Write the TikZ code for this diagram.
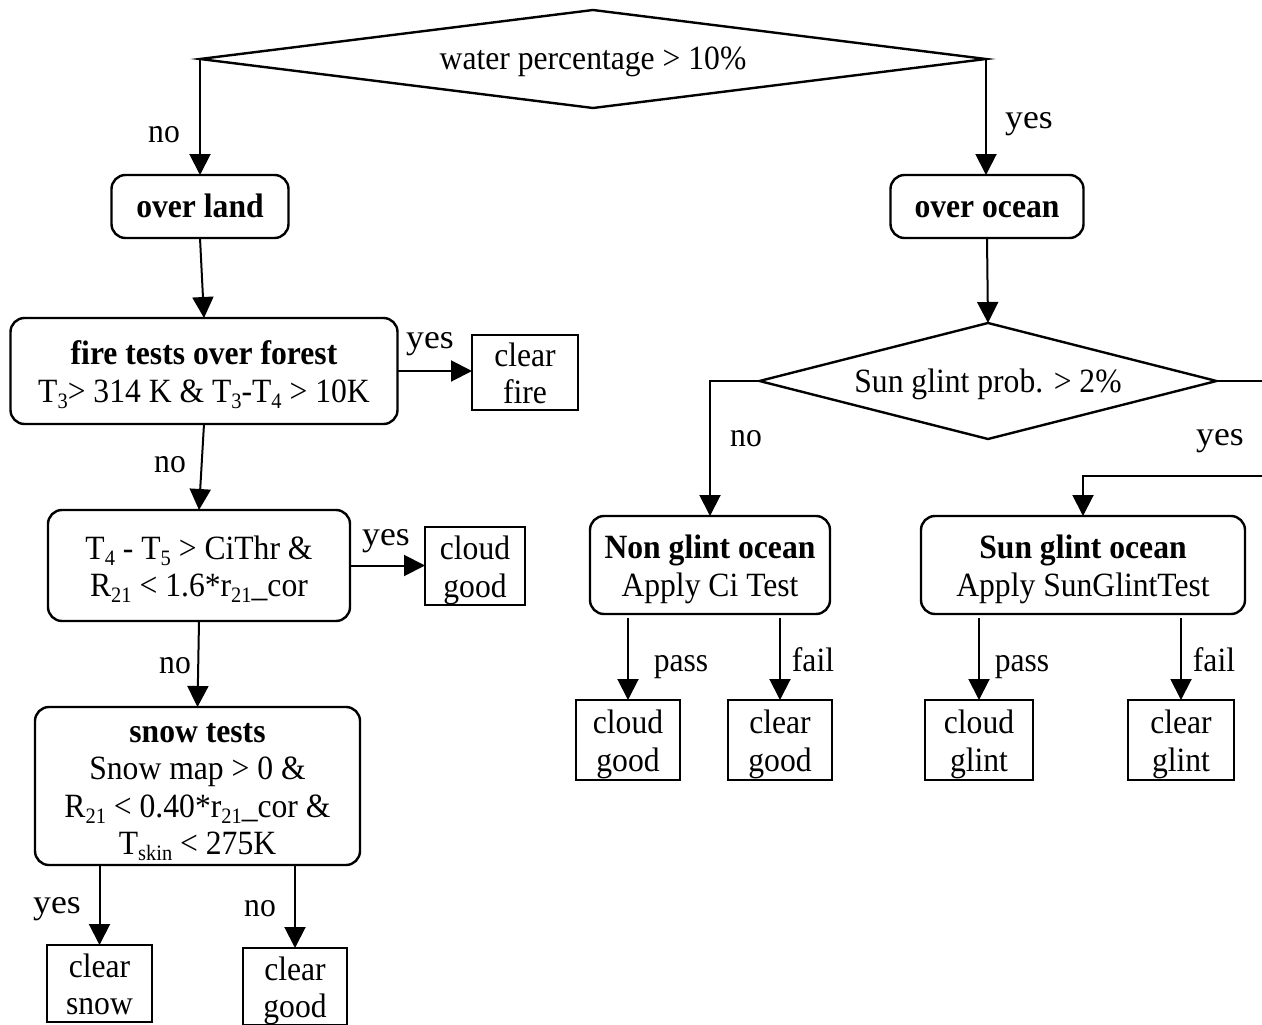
\documentclass[tikz,border=0pt]{standalone}
\usepackage{fontspec}
\setmainfont{Liberation Serif}[FakeStretch=0.93]
\newfontfamily\yesfont{Liberation Serif}[FakeStretch=1.05]
\usetikzlibrary{shapes.geometric,arrows.meta}
% lowered index in the running serif face
\newcommand{\lowidx}[1]{\raisebox{-6pt}{\fontsize{22}{22}\selectfont #1}}
% fixed first-line height and last-line depth for text blocks
\newcommand{\topstrut}{\rule{0pt}{33pt}}
\newcommand{\mtop}{\rule{0pt}{36pt}}
\newcommand{\lbltopstrut}{\rule{0pt}{28pt}}
\newcommand{\botstrut}{\rule[-11pt]{0pt}{11pt}}

\begin{document}
\begin{tikzpicture}[x=1pt,y=-1pt,
  txt/.style={font=\fontsize{34}{37.5}\selectfont,
    execute at begin node=\topstrut, execute at end node=\botstrut},
  mtxt/.style={font=\fontsize{34}{37.5}\selectfont},
  lbltxt/.style={inner sep=0pt, font=\fontsize{34}{37.5}\selectfont,
    execute at begin node=\lbltopstrut, execute at end node=\botstrut},
  rbox/.style={draw, line width=2.4pt, rounded corners=14pt, align=center, inner xsep=0pt, inner ysep=-15pt, outer sep=0pt},
  sbox/.style={mtxt, draw, line width=2.2pt, align=center, inner xsep=0pt, inner ysep=-15pt, outer sep=0pt},
  dbox/.style={txt, draw, diamond, line width=2.4pt, inner xsep=-60pt, inner ysep=-15pt, outer sep=0pt},
  arr/.style={line width=2pt, -{Triangle[length=21pt,width=21pt]}},
  yeslbl/.style={lbltxt, font=\yesfont\fontsize{34}{34}\selectfont},
  nolbl/.style={lbltxt},
  pflbl/.style={lbltxt}
]
\useasboundingbox (0,0) rectangle (1262,1025);
\clip (0,0) rectangle (1262,1025);

% top decision
\node[dbox, aspect=8, minimum width=786pt, minimum height=98pt] (wp) at (593,59) {water percentage > 10\%};

% land branch
\node[rbox, txt, minimum width=177pt, minimum height=63pt] (land) at (200,206.5) {\textbf{over land}};
\node[rbox, mtxt, minimum width=387pt, minimum height=106pt] (fire) at (204,371)
  {\mtop\textbf{fire tests over forest}\\T\lowidx{3}> 314 K \& T\lowidx{3}-T\lowidx{4} > 10K\botstrut};
\node[sbox, minimum width=106pt, minimum height=75pt] (cfire) at (525,372.5) {\mtop clear\\fire\botstrut};
\node[rbox, mtxt, minimum width=302pt, minimum height=111pt] (ci) at (199,565.5)
  {\mtop T\lowidx{4} - T\lowidx{5} > CiThr \&\\R\lowidx{21} < 1.6*r\lowidx{21}\_cor\botstrut};
\node[sbox, minimum width=100pt, minimum height=78pt] (cgoodA) at (475,566) {\mtop cloud\\good\botstrut};
\node[rbox, mtxt, minimum width=325pt, minimum height=158pt] (snow) at (197.5,786)
  {\mtop\textbf{snow tests}\\Snow map > 0 \&\\R\lowidx{21} < 0.40*r\lowidx{21}\_cor \&\\T\lowidx{skin} < 275K\botstrut};
\node[sbox, minimum width=105pt, minimum height=77pt] (csnow) at (99.5,983.5) {\mtop clear\\snow\botstrut};
\node[sbox, minimum width=104pt, minimum height=77pt] (cgoodB) at (295,986.5) {\mtop clear\\good\botstrut};

% ocean branch
\node[rbox, txt, minimum width=193pt, minimum height=63pt] (ocean) at (987,206.5) {\textbf{over ocean}};
\node[dbox, aspect=4, minimum width=457pt, minimum height=116pt] (sg) at (988,381) {Sun glint prob. > 2\%};
\node[rbox, mtxt, minimum width=240pt, minimum height=98pt] (ng) at (710,565) {\mtop\textbf{Non glint ocean}\\Apply Ci Test\botstrut};
\node[rbox, mtxt, minimum width=324pt, minimum height=98pt] (sgo) at (1083,565) {\mtop\textbf{Sun glint ocean}\\Apply SunGlintTest\botstrut};
\node[sbox, minimum width=104pt, minimum height=80pt] (cgoodC) at (628,740) {\mtop cloud\\good\botstrut};
\node[sbox, minimum width=104pt, minimum height=80pt] (cgoodD) at (780,740) {\mtop clear\\good\botstrut};
\node[sbox, minimum width=108pt, minimum height=80pt] (cglint) at (979,740) {\mtop cloud\\glint\botstrut};
\node[sbox, minimum width=106pt, minimum height=80pt] (clglint) at (1181,740) {\mtop clear\\glint\botstrut};

% connectors
\draw[arr] (wp.west) -- (wp.west |- land.north);
\draw[arr] (wp.east) -- (wp.east |- ocean.north);
\draw[arr] (land.south) -- (fire.north);
\draw[arr] (fire.east) -- (fire.east -| cfire.west);
\draw[arr] (fire.south) -- (ci.north);
\draw[arr] (ci.east) -- (ci.east -| cgoodA.west);
\draw[arr] (ci.south) -- (snow.north);
\draw[arr] (csnow.north |- snow.south) -- (csnow.north);
\draw[arr] (cgoodB.north |- snow.south) -- (cgoodB.north);
\draw[arr] (ocean.south) -- (sg.north);
\draw[arr] (sg.west) -| (ng.north);
\coordinate (sgturn) at (1290,381);
\coordinate (sgback) at (1290,476);
\draw[arr] (sg.east) -- (sgturn) -- (sgback) -| (sgo.north);
\draw[arr] ([yshift=-4pt]ng.south -| cgoodC.north) -- (cgoodC.north);
\draw[arr] ([yshift=-4pt]ng.south -| cgoodD.north) -- (cgoodD.north);
\draw[arr] ([yshift=-4pt]sgo.south -| cglint.north) -- (cglint.north);
\draw[arr] ([yshift=-4pt]sgo.south -| clglint.north) -- (clglint.north);

% branch labels
\node[nolbl] (lno1) at (164,134) {no};
\node[yeslbl] (lyes1) at (1029,120) {yes};
\node[yeslbl] (lyes2) at (430,340) {yes};
\node[nolbl] (lno2) at (170,464) {no};
\node[yeslbl] (lyes3) at (386,537) {yes};
\node[nolbl] (lno3) at (175,665) {no};
\node[yeslbl] (lyes4) at (57,905) {yes};
\node[nolbl] (lno4) at (260,908) {no};
\node[nolbl] (lno5) at (746,438) {no};
\node[yeslbl] (lyes5) at (1220,437) {yes};
\node[pflbl] (lpass1) at (681,663) {pass};
\node[pflbl] (lfail1) at (813,663) {fail};
\node[pflbl] (lpass2) at (1022,663) {pass};
\node[pflbl] (lfail2) at (1214,663) {fail};
\end{tikzpicture}
\end{document}
